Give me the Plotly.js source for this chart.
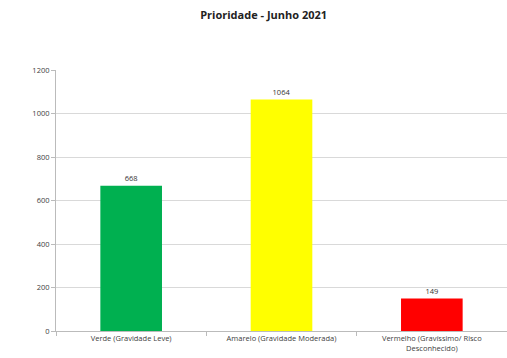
<!DOCTYPE html>
<html><head><meta charset="utf-8">
<script src="https://cdn.plot.ly/plotly-3.0.1.min.js"></script>
<style>html,body{margin:0;padding:0;background:#fff}#c{width:507px;height:358px}</style>
</head><body><div id="c"></div>
<script>
const categories = ["Verde (Gravidade Leve)", "Amarelo (Gravidade Moderada)", "Vermelho (Gravíssimo/ Risco<br>Desconhecido)"];
const values = [668, 1064, 149];
const colors = ["#00b050", "#ffff00", "#ff0000"];
const yTicks = [0, 200, 400, 600, 800, 1000, 1200];

Plotly.newPlot("c", [{
  type: "bar",
  x: categories,
  y: values,
  marker: {color: colors},
  width: 0.41,
  text: values.map(String),
  textposition: "outside",
  textfont: {size: 7.5, color: "#333", family: "Open Sans, sans-serif"},
  cliponaxis: false,
  hoverinfo: "none"
}], {
  width: 507, height: 358,
  margin: {l: 56, r: 0, t: 70, b: 27},
  paper_bgcolor: "#fff", plot_bgcolor: "#fff",
  title: {text: "<b>Prioridade - Junho 2021</b>", x: 0.52, xanchor: "center", y: 0.958, yanchor: "middle",
          font: {size: 11, color: "#222", family: "Open Sans, sans-serif"}},
  font: {family: "Open Sans, sans-serif", size: 7.5, color: "#404040"},
  xaxis: {type: "category", tickson: "boundaries", ticks: "outside", ticklen: 4, tickcolor: "#bbb",
          showline: true, linecolor: "#bbb", linewidth: 1, showgrid: false,
          tickfont: {size: 7.5, color: "#404040"}},
  yaxis: {range: [0, 1200], tickvals: yTicks, ticks: "outside", ticklen: 4, tickcolor: "#bbb",
          showline: true, linecolor: "#bbb", gridcolor: "#d9d9d9", zeroline: false,
          tickfont: {size: 7.5, color: "#404040"}},
  showlegend: false
}, {displayModeBar: false, staticPlot: true});
</script></body></html>
